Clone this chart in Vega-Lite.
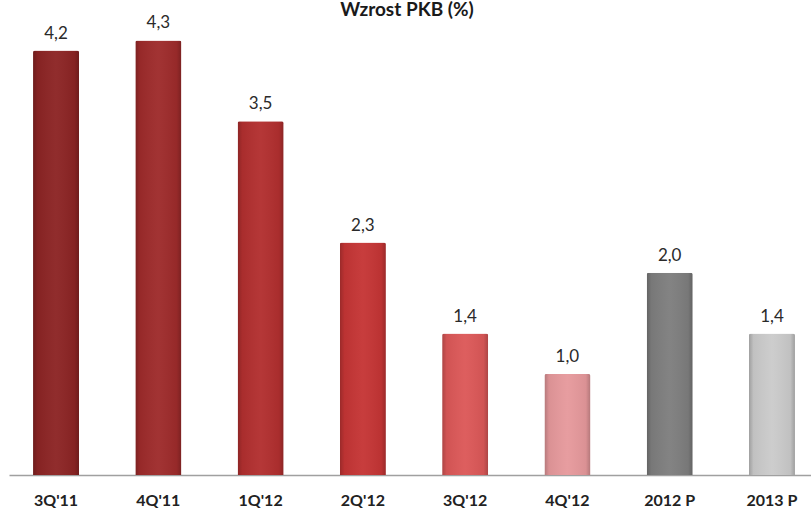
{
  "$schema": "https://vega.github.io/schema/vega-lite/v6.json",
  "autosize": {"type": "none"},
  "width": 810,
  "height": 475,
  "padding": {"left": 9, "top": 0, "right": 0, "bottom": 37},
  "background": "white",
  "config": {
    "view": {"stroke": null},
    "locale": {"number": {"decimal": ",", "thousands": " ", "grouping": [3], "currency": ["", " zł"]}}
  },
  "title": {
    "text": "Wzrost PKB (%)",
    "orient": "top",
    "anchor": "middle",
    "offset": -35,
    "baseline": "alphabetic",
    "dx": -7,
    "font": "Lato",
    "fontSize": 19,
    "fontWeight": "bold",
    "color": "#1a1a1a"
  },
  "data": {
    "values": [
      {"okres": "3Q'11", "wartosc": 4.2},
      {"okres": "4Q'11", "wartosc": 4.3},
      {"okres": "1Q'12", "wartosc": 3.5},
      {"okres": "2Q'12", "wartosc": 2.3},
      {"okres": "3Q'12", "wartosc": 1.4},
      {"okres": "4Q'12", "wartosc": 1.0},
      {"okres": "2012 P", "wartosc": 2.0},
      {"okres": "2013 P", "wartosc": 1.4}
    ]
  },
  "encoding": {
    "x": {
      "field": "okres",
      "type": "nominal",
      "sort": null,
      "scale": {"paddingInner": 0.55, "paddingOuter": 0.235},
      "axis": {
        "title": null,
        "labelAngle": 0,
        "ticks": false,
        "domainColor": "#a0a0a0",
        "domainWidth": 1.5,
        "labelPadding": 17,
        "labelFont": "Lato",
        "labelFontSize": 16,
        "labelFontWeight": "bold",
        "labelColor": "#222222"
      }
    },
    "y": {
      "field": "wartosc",
      "type": "quantitative",
      "scale": {"domain": [0, 4.7], "nice": false, "zero": true},
      "axis": null
    }
  },
  "layer": [
    {
      "mark": {"type": "bar", "cornerRadiusTopLeft": 2, "cornerRadiusTopRight": 2},
      "encoding": {
        "color": {
          "field": "okres",
          "type": "nominal",
          "sort": null,
          "scale": {
            "domain": ["3Q'11", "4Q'11", "1Q'12", "2Q'12", "3Q'12", "4Q'12", "2012 P", "2013 P"],
            "range": ["#8c2424", "#9e2b2b", "#b22f2f", "#c53535", "#dc5858", "#e6999c", "#7e7e7e", "#cbcbcb"]
          },
          "legend": null
        }
      }
    },
    {
      "mark": {
        "type": "bar",
        "cornerRadiusTopLeft": 2,
        "cornerRadiusTopRight": 2,
        "color": {
          "gradient": "linear",
          "x1": 0, "y1": 0, "x2": 1, "y2": 0,
          "stops": [
            {"offset": 0, "color": "rgba(0,0,0,0.22)"},
            {"offset": 0.1, "color": "rgba(0,0,0,0.05)"},
            {"offset": 0.5, "color": "rgba(255,255,255,0.04)"},
            {"offset": 0.9, "color": "rgba(0,0,0,0.05)"},
            {"offset": 1, "color": "rgba(0,0,0,0.22)"}
          ]
        }
      },
      "encoding": {}
    },
    {
      "mark": {
        "type": "text",
        "baseline": "bottom",
        "dy": -8,
        "font": "Lato",
        "fontSize": 17,
        "color": "#2a2a2a"
      },
      "encoding": {
        "text": {"field": "wartosc", "type": "quantitative", "format": ".1f"}
      }
    }
  ]
}
